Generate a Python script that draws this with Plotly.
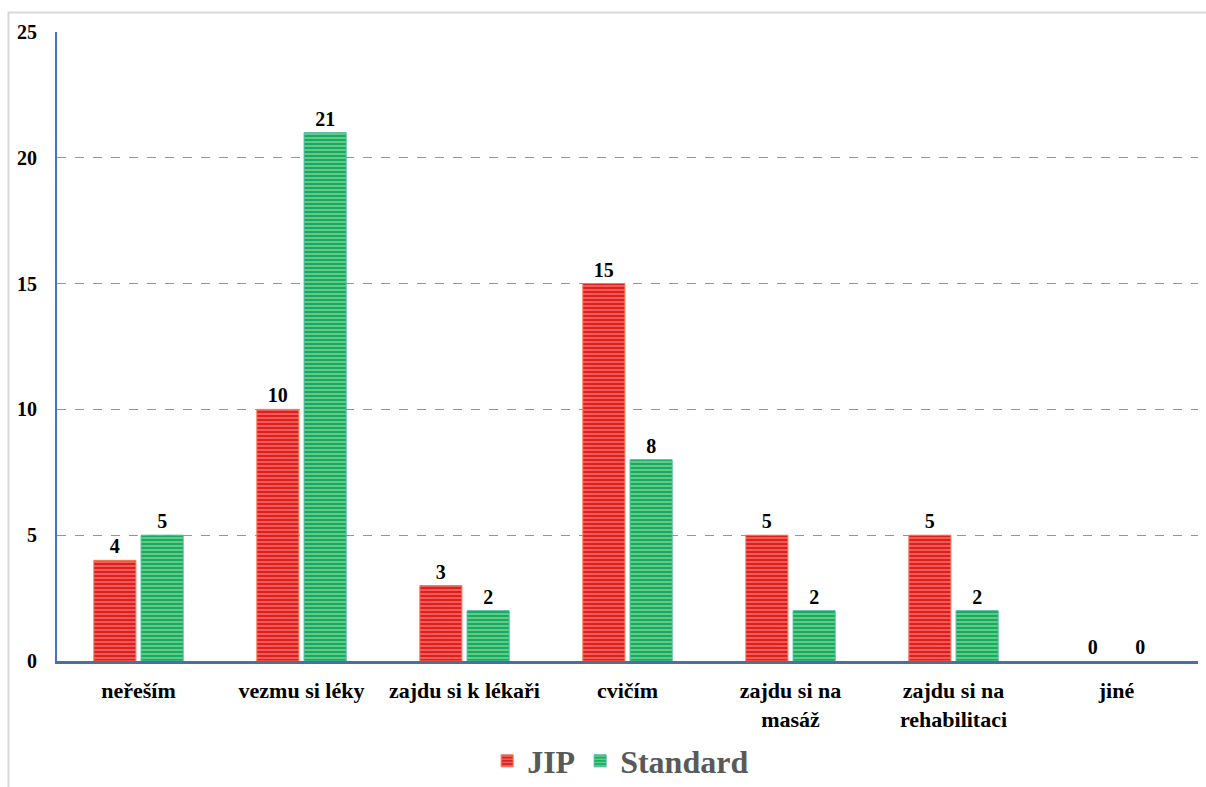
import plotly.graph_objects as go

categories = ["neřeším", "vezmu si léky", "zajdu si k lékaři", "cvičím",
              "zajdu si na<br>masáž", "zajdu si na<br>rehabilitaci", "jiné"]
jip = [4, 10, 3, 15, 5, 5, 0]
standard = [5, 21, 2, 8, 2, 2, 0]
y_ticks = [0, 5, 10, 15, 20, 25]

FONT = "Liberation Serif, Times New Roman, serif"


def edge_widths(vals):
    return [0 if v == 0 else 1 for v in vals]


fig = go.Figure()
fig.add_trace(go.Bar(
    name="<b>JIP</b>", x=categories, y=jip, texttemplate="<b>%{y}</b>",
    textposition="outside",
    textfont=dict(family=FONT, size=20, color="black"),
    marker=dict(color="#e31c1c",
                line=dict(color="#f27a55", width=edge_widths(jip)),
                pattern=dict(shape="-", fgcolor="#f5b0a8", size=4, solidity=0.45)),
    cliponaxis=False,
))
fig.add_trace(go.Bar(
    name="<b>Standard</b>", x=categories, y=standard, texttemplate="<b>%{y}</b>",
    textposition="outside",
    textfont=dict(family=FONT, size=20, color="black"),
    marker=dict(color="#12ad62",
                line=dict(color="#4cb8a2", width=edge_widths(standard)),
                pattern=dict(shape="-", fgcolor="#cdeaa8", size=4, solidity=0.45)),
    cliponaxis=False,
))

fig.update_layout(
    width=1206, height=787,
    margin=dict(l=57, r=8, t=32, b=126, autoexpand=False),
    paper_bgcolor="white", plot_bgcolor="white",
    barmode="group", bargap=0.42, bargroupgap=0.11,
    font=dict(family=FONT, size=20, color="black"),
    showlegend=True,
    legend=dict(orientation="h", x=0.494, xanchor="center",
                yref="container", y=0.033, yanchor="middle",
                font=dict(family=FONT, size=32, color="#595959"),
                itemwidth=30, traceorder="normal"),
    shapes=[dict(type="rect", xref="paper", yref="paper",
                 x0=-0.0425, x1=1.02, y0=-0.22, y1=1.031,
                 line=dict(color="#d9d9d9", width=2), fillcolor="rgba(0,0,0,0)",
                 layer="below")],
)
fig.update_xaxes(
    showline=True, linecolor="#4a6fa5", linewidth=3,
    tickfont=dict(family=FONT, size=22, color="black"),
    tickprefix="<b>", ticksuffix="</b>",
    ticks="", showgrid=False, automargin=False, ticklabelstandoff=8,
)
fig.update_yaxes(
    range=[0, 25], tickvals=y_ticks, ticktext=[f"<b>{v}</b>" for v in y_ticks],
    showline=True, linecolor="#4472c4", linewidth=2,
    showgrid=True, gridcolor="#7399d6", griddash="dash", gridwidth=1,
    tickfont=dict(family=FONT, size=20, color="black"),
    ticks="", ticklabelstandoff=14, zeroline=False, automargin=False,
)

fig.write_html("out.html")
